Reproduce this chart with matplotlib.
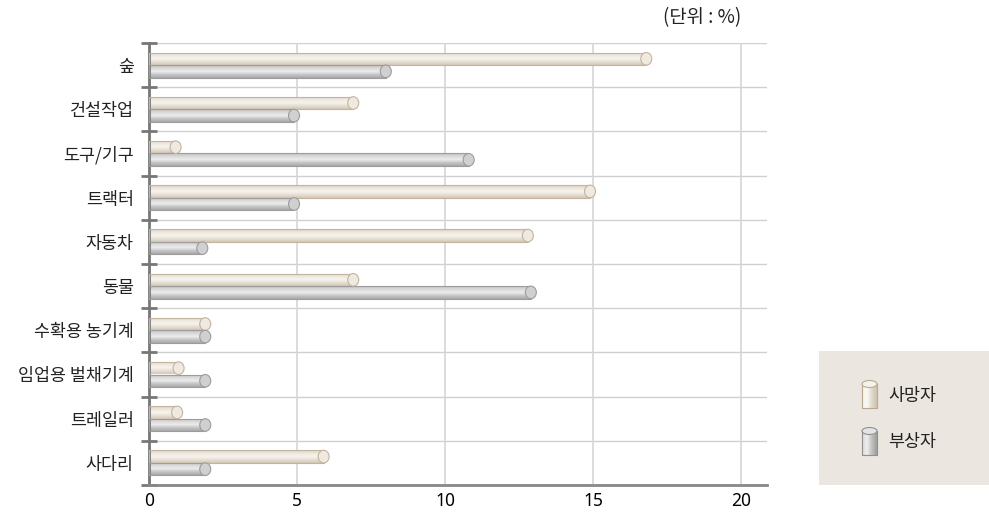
import matplotlib
matplotlib.use("Agg")
import matplotlib.pyplot as plt
import numpy as np
from matplotlib.patches import Rectangle, Ellipse
from matplotlib.colors import LinearSegmentedColormap

plt.rcParams['font.family'] = ['Noto Sans CJK KR', 'DejaVu Sans']

# data (unit: %)
categories = ['숲', '건설작업', '도구/기구', '트랙터', '자동차', '동물',
              '수확용 농기계', '임업용 벌채기계', '트레일러', '사다리']
deaths = [16.8, 6.9, 0.9, 14.9, 12.8, 6.9, 1.9, 1.0, 0.95, 5.9]    # 사망자
injuries = [8.0, 4.9, 10.8, 4.9, 1.8, 12.9, 1.9, 1.9, 1.9, 1.9]    # 부상자
xticks = [0, 5, 10, 15, 20]

beige = LinearSegmentedColormap.from_list('beige', ['#d2c8b8', '#e6dfd3', '#f7f4ef', '#ede7de', '#dcd3c5'])
grey = LinearSegmentedColormap.from_list('grey', ['#a9a9a9', '#c4c4c4', '#ececec', '#dadada', '#c2c2c2'])

fig = plt.figure(figsize=(9.89, 5.12), dpi=100)
ax = fig.add_axes([149/989, 27/512, 618/989, 442/512])

n = len(categories)
ypos = np.arange(n)[::-1].astype(float)
h = 0.285
capw = 11 / 29.6

grad = np.linspace(0, 1, 64).reshape(-1, 1)

def cylinder(x, yc, cmap, capcol, edge):
    y0 = yc - h / 2
    rect = Rectangle((0, y0), x, h, facecolor='none', edgecolor=edge, lw=0.8, zorder=3)
    ax.add_patch(rect)
    im = ax.imshow(grad, cmap=cmap, extent=[0, x, y0, y0 + h], origin='lower',
                   aspect='auto', zorder=2)
    im.set_clip_path(rect)
    ax.add_patch(Ellipse((x, yc), capw, h, facecolor=capcol, edgecolor=edge, lw=0.8, zorder=4))

for i in range(n):
    cylinder(deaths[i], ypos[i] + h / 2, beige, '#efe9df', '#c2b59f')
    cylinder(injuries[i], ypos[i] - h / 2, grey, '#d0d0d0', '#9c9c9c')

ax.set_xlim(0, 618 / 29.6)
ax.set_ylim(-0.5, n - 0.5)

# grid
for b in np.arange(n + 1) - 0.5:
    ax.axhline(b, color='#d0d0d0', lw=1, zorder=1)
for v in xticks[1:]:
    ax.axvline(v, color='#d6d6d6', lw=1.2, zorder=1)

ax.set_yticks(ypos)
ax.set_yticklabels(categories, fontsize=12.5, color='#222222')
ax.set_yticks(np.arange(n + 1) - 0.5, minor=True)
ax.tick_params(axis='y', which='major', length=0, pad=11)
ax.tick_params(axis='y', which='minor', length=12, width=2, color='#777777', direction='inout')
ax.set_xticks(xticks)
ax.set_xticklabels([str(t) for t in xticks], fontsize=12.5, family=['Noto Sans', 'DejaVu Sans'])
ax.tick_params(axis='x', length=0, pad=5)

for s in ['top', 'right']:
    ax.spines[s].set_visible(False)
ax.spines['left'].set_color('#777777')
ax.spines['left'].set_linewidth(2)
ax.spines['bottom'].set_color('#888888')
ax.spines['bottom'].set_linewidth(2)

fig.text(741/989, 1 - 18/512, '(단위 : %)', ha='right', va='center', fontsize=13.5, color='#222222')

# legend box
lax = fig.add_axes([819/989, 27/512, 170/989, 134/512])
lax.set_xlim(0, 170)
lax.set_ylim(0, 134)
lax.axis('off')
lax.add_patch(Rectangle((0, 0), 170, 134, facecolor='#ebe6e0', edgecolor='none'))
hgrad = np.linspace(0, 1, 64).reshape(1, -1)
leg_b = LinearSegmentedColormap.from_list('lb', ['#f4f0e9', '#fbf9f5', '#e2d9cb', '#cfc3b0'])
leg_g = LinearSegmentedColormap.from_list('lg', ['#d8d8d8', '#eeeeee', '#c0c0c0', '#9e9e9e'])
for (yb, cmap, capc, edge, label, ty) in [(77, leg_b, '#f6f2ea', '#b8aa92', '사망자', 89),
                                          (30, leg_g, '#e4e4e4', '#909090', '부상자', 43)]:
    r = Rectangle((43, yb), 15, 24, facecolor='none', edgecolor=edge, lw=0.8, zorder=3)
    lax.add_patch(r)
    im = lax.imshow(hgrad, cmap=cmap, extent=[43, 58, yb, yb + 24], aspect='auto', zorder=2)
    im.set_clip_path(r)
    lax.add_patch(Ellipse((50.5, yb + 24), 15, 7, facecolor=capc, edgecolor=edge, lw=0.8, zorder=4))
    lax.text(69, ty, label, fontsize=12.5, va='center', ha='left', color='#222222')
lax.set_xlim(0, 170)
lax.set_ylim(0, 134)

fig.savefig('out.png', dpi=100)
